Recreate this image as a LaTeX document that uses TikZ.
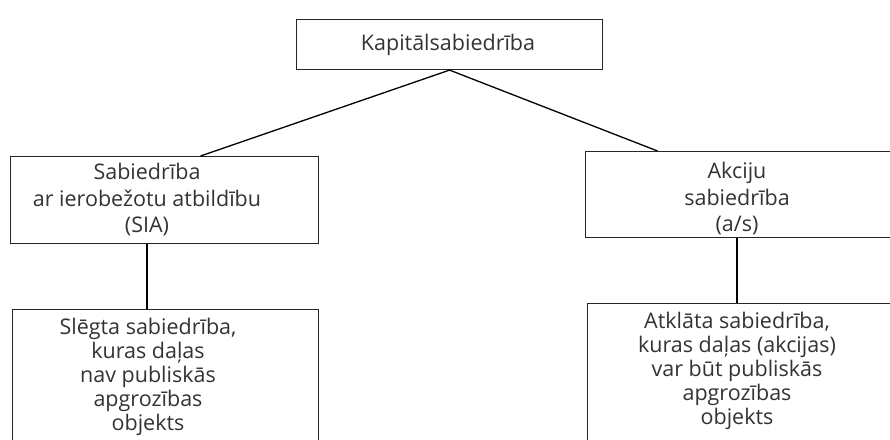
\documentclass[tikz,border=0pt]{standalone}
\usepackage{fontspec}
\setmainfont{Open Sans}
\begin{document}
\begin{tikzpicture}[x=1pt,y=-1pt,
  box/.style={draw=black!85, line width=1.1pt, rectangle, inner sep=0pt, anchor=north west},
  label/.style={align=center, text=black!80, font=\fontsize{21.5}{26.5}\selectfont, inner sep=0pt},
  labeltight/.style={label, font=\fontsize{21.5}{23.8}\selectfont},
  link/.style={draw=black, line width=1.3pt}]
  \useasboundingbox (0,0) rectangle (890,439);
  \clip (0,0) rectangle (890,439);

  % company type tree
  \node[box, minimum width=306pt, minimum height=50pt] (top) at (296,19) {};
  \node[label] (topt) at (448,45) {Kapitālsabiedrība};

  \node[box, minimum width=308pt, minimum height=87pt] (sia) at (10,156) {};
  \node[label] (siat) at (147,200) {Sabiedrība\\ar ierobežotu atbildību\\(SIA)};

  \node[box, minimum width=320pt, minimum height=86pt] (as) at (585,151) {};
  \node[label] (ast) at (737,199) {Akciju\\sabiedrība\\(a/s)};

  \node[box, minimum width=306pt, minimum height=160pt] (slegta) at (12,309) {};
  \node[labeltight] (slegtat) at (148,377) {Slēgta sabiedrība,\\kuras daļas\\nav publiskās\\apgrozības\\objekts};

  \node[box, minimum width=320pt, minimum height=160pt] (atklata) at (587,303) {};
  \node[labeltight] (atklatat) at (737,371) {Atklāta sabiedrība,\\kuras daļas (akcijas)\\var būt publiskās\\apgrozības\\objekts};

  % connectors
  \draw[link] (top.south) -- ([xshift=36pt]sia.north);
  \draw[link] (top.south) -- ([xshift=-88pt]as.north);
  \draw[link] (siat |- sia.south) -- (siat |- slegta.north);
  \draw[link] (ast |- as.south) -- (ast |- atklata.north);
\end{tikzpicture}
\end{document}
